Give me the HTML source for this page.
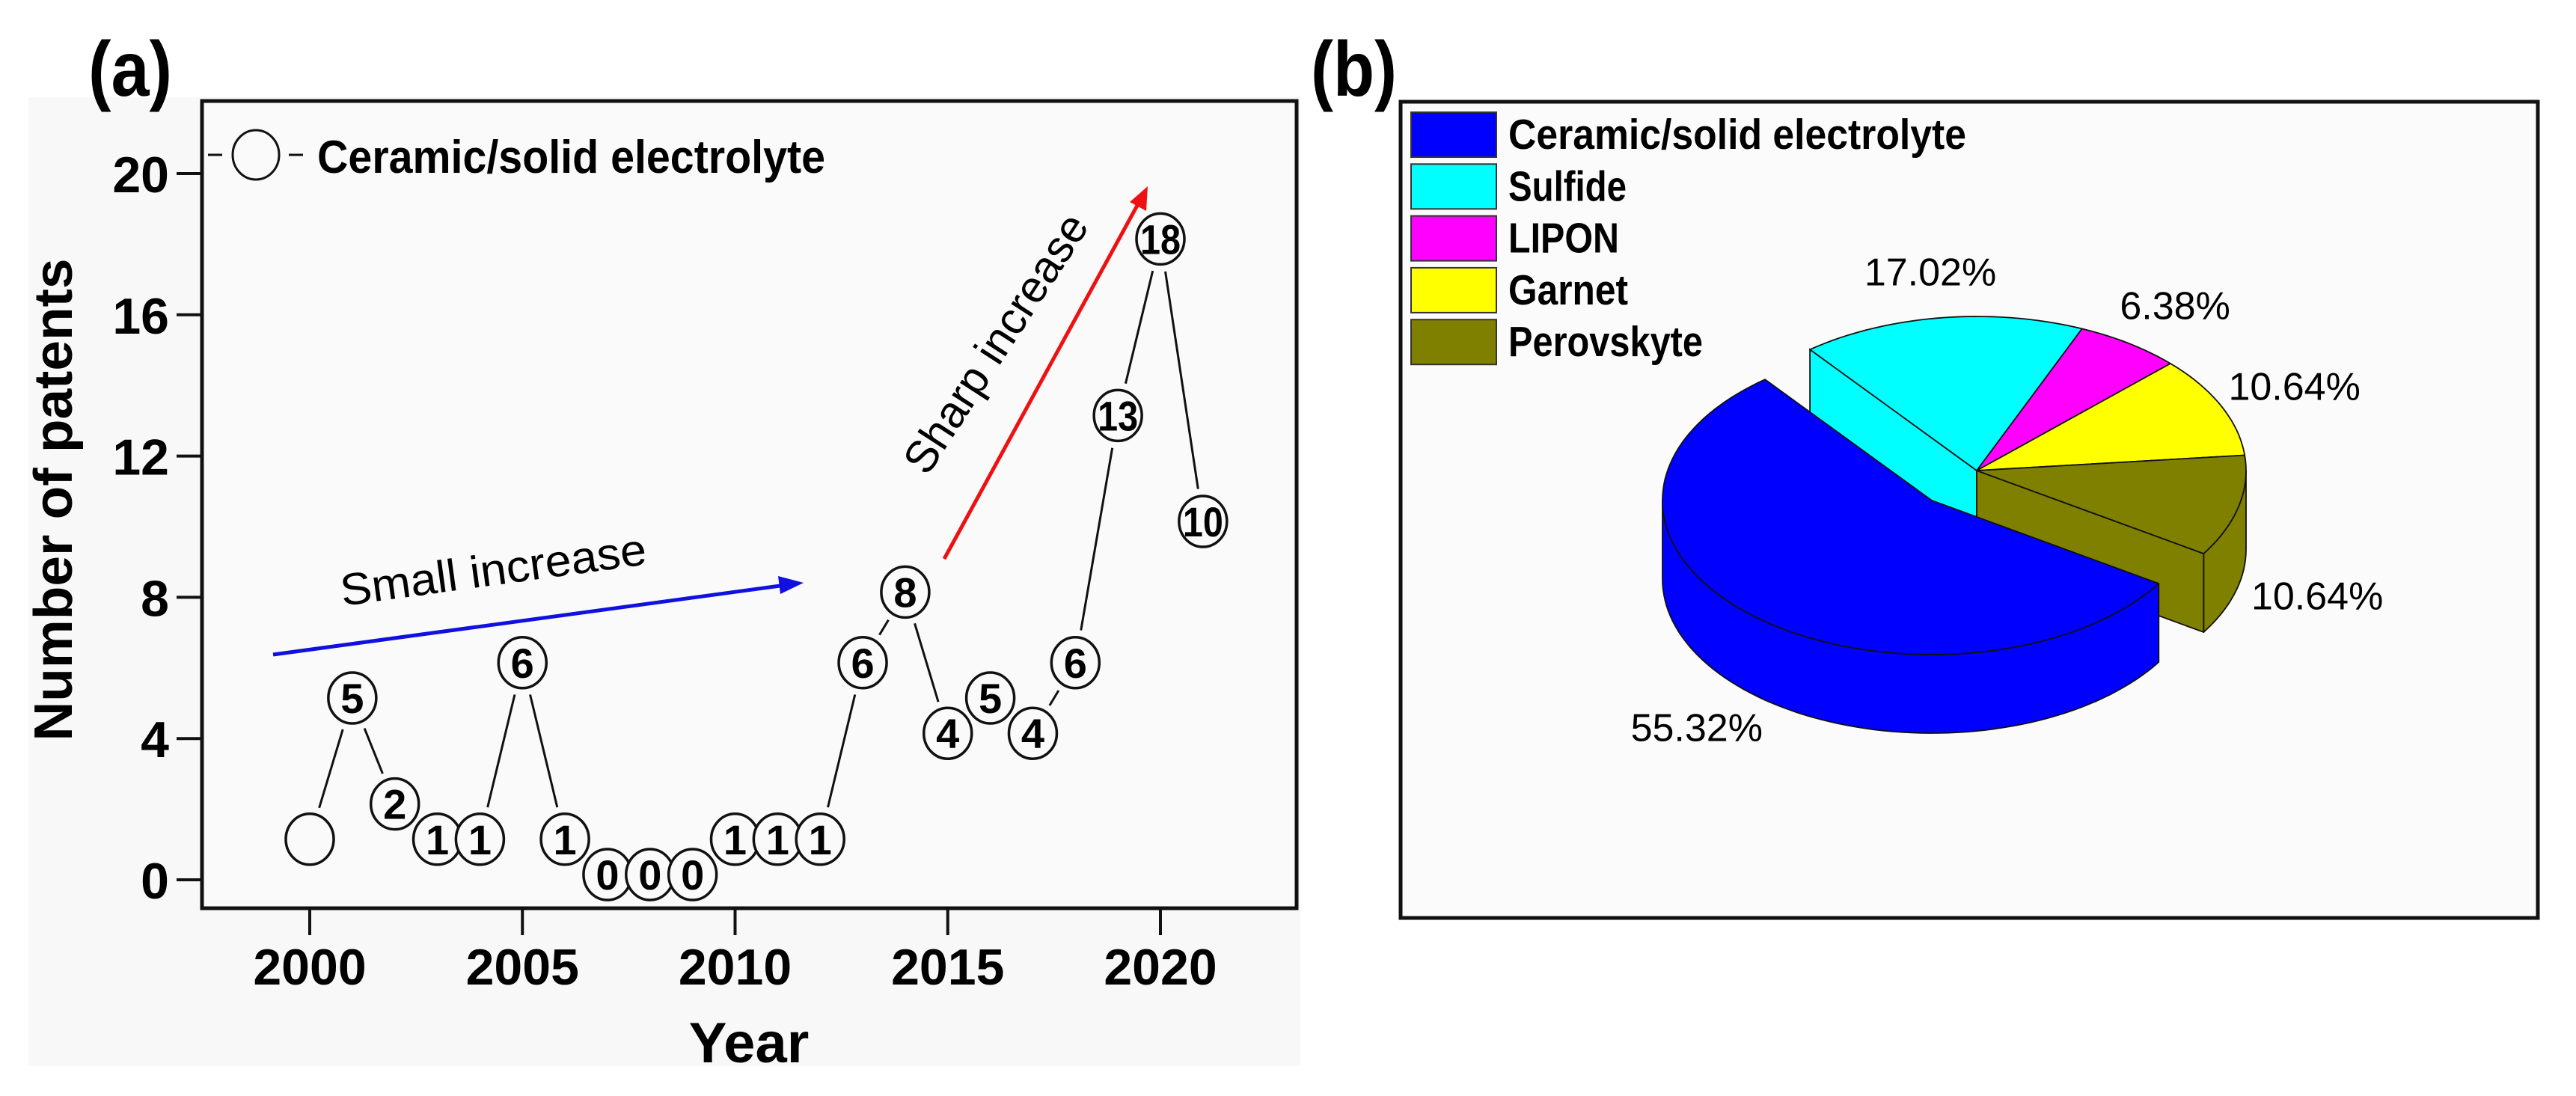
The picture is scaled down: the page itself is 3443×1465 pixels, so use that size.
<!DOCTYPE html>
<html><head><meta charset="utf-8">
<style>
html,body{margin:0;padding:0;background:#fff;}
svg{display:block;font-family:"Liberation Sans",Arial,sans-serif;}
</style></head>
<body>
<svg id="fig" width="3443" height="1465" viewBox="0 0 3443 1465" xmlns="http://www.w3.org/2000/svg">
  <rect x="0" y="0" width="3443" height="1465" fill="#fff"/>
  <g id="panelA">
    <rect x="38" y="130" width="1700" height="1295" fill="#f8f8f8"/>
    <text x="118" y="128" font-size="104" font-weight="bold" textLength="112" lengthAdjust="spacingAndGlyphs">(a)</text>
    <rect x="270" y="135" width="1463" height="1079" fill="#fafafa" stroke="#111" stroke-width="5"/>
    <g id="yticks"></g>
    <g id="xticks"></g>
    <text transform="translate(96,668) rotate(-90)" text-anchor="middle" font-size="72" font-weight="bold" textLength="645" lengthAdjust="spacingAndGlyphs">Number of patents</text>
    <text x="1001" y="1420" text-anchor="middle" font-size="76" font-weight="bold">Year</text>
    <g>
      <line x1="278" y1="207" x2="297" y2="207" stroke="#111" stroke-width="3"/>
      <ellipse cx="342" cy="207" rx="31" ry="33" fill="none" stroke="#111" stroke-width="3"/>
      <line x1="386" y1="207" x2="405" y2="207" stroke="#111" stroke-width="3"/>
      <text x="424" y="231" font-size="62" font-weight="bold" textLength="679" lengthAdjust="spacingAndGlyphs">Ceramic/solid electrolyte</text>
    </g>
    <g id="series"></g>
    <g>
      <line x1="365" y1="875" x2="1050" y2="782" stroke="#1010e0" stroke-width="5"/>
      <polygon points="1074,779 1040,770 1043,794" fill="#1010e0"/>
      <text transform="translate(662,782) rotate(-7.8)" text-anchor="middle" font-size="60" textLength="412" lengthAdjust="spacingAndGlyphs">Small increase</text>
    </g>
    <g>
      <line x1="1262" y1="747" x2="1522" y2="271" stroke="#ee1111" stroke-width="5"/>
      <polygon points="1534,249 1510,270 1532,282" fill="#ee1111"/>
      <text transform="translate(1348,470) rotate(-57)" text-anchor="middle" font-size="60" textLength="400" lengthAdjust="spacingAndGlyphs">Sharp increase</text>
    </g>
  </g>
  <g id="panelB">
    <text x="1752" y="128" font-size="104" font-weight="bold" textLength="115" lengthAdjust="spacingAndGlyphs">(b)</text>
    <rect x="1872" y="136" width="1520" height="1091" fill="#fbfbfb" stroke="#111" stroke-width="5"/>
    <g id="pieLegend"></g>
    <g id="pie"></g>
  </g>
</svg>
<script>
const years = [2000,2001,2002,2003,2004,2005,2006,2007,2008,2009,2010,2011,2012,2013,2014,2015,2016,2017,2018,2019,2020,2021];
const patents = [1,5,2,1,1,6,1,0,0,0,1,1,1,6,8,4,5,4,6,13,18,10];
const pointLabels = ["","5","2","1","1","6","1","0","0","0","1","1","1","6","8","4","5","4","6","13","18","10"];
const yTicks = [0,4,8,12,16,20];
const xTicks = [2000,2005,2010,2015,2020];

const pieCategories = ["Ceramic/solid electrolyte","Sulfide","LIPON","Garnet","Perovskyte"];
const pieShares = [55.32,17.02,6.38,10.64,10.64];
const pieColors = ["#0000ff","#00ffff","#ff00ff","#ffff00","#808000"];

const NS = "http://www.w3.org/2000/svg";
function mk(tag, attrs, parent){
  const e = document.createElementNS(NS, tag);
  for (const k in attrs) e.setAttribute(k, attrs[k]);
  if (parent) parent.appendChild(e);
  return e;
}
function xScale(yr){ return 414 + (yr - 2000) * 56.85; }
function yScale(v){ return 1176 - v * 47.2; }

const yG = document.getElementById('yticks');
yTicks.forEach(t => {
  const y = yScale(t);
  const l = mk('line', {x1:236, y1:y, x2:270, y2:y, stroke:'#111', 'stroke-width':4}, yG);
  
  
  const tx = mk('text', {x:226, y:y+25, 'text-anchor':'end', 'font-size':68, 'font-weight':'bold'}, yG);
  tx.textContent = t;
  
  
});
const xG = document.getElementById('xticks');
xTicks.forEach(t => {
  const x = xScale(t);
  const l = mk('line', {x1:x, y1:1214, x2:x, y2:1250, stroke:'#111', 'stroke-width':4}, xG);
  
  
  const tx = mk('text', {x:x, y:1316, 'text-anchor':'middle', 'font-size':68, 'font-weight':'bold'}, xG);
  tx.textContent = t;
  
  
});

const sG = document.getElementById('series');
const RX = 32, RY = 34, OFF = -7, GAP = 10;
const pts = years.map((yr,i) => [xScale(yr), yScale(patents[i]) + OFF]);
function edge(dx, dy){ return 1 / Math.sqrt((dx/RX)*(dx/RX) + (dy/RY)*(dy/RY)); }
for (let i = 0; i < pts.length - 1; i++){
  const [x1,y1] = pts[i], [x2,y2] = pts[i+1];
  const dx = x2-x1, dy = y2-y1, L = Math.hypot(dx,dy);
  const ux = dx/L, uy = dy/L;
  const r = edge(ux,uy) + GAP;
  if (L - 2*r < 2) continue;
  const s = mk('line', {x1:x1+ux*r, y1:y1+uy*r, x2:x2-ux*r, y2:y2-uy*r, stroke:'#111', 'stroke-width':3}, sG);
  
  
}
pts.forEach((p,i) => {
  const e = mk('ellipse', {cx:p[0], cy:p[1], rx:RX, ry:RY, fill:'#fafafa', stroke:'#111', 'stroke-width':3.5}, sG);
  
  
  if (pointLabels[i] !== ""){
    const t = mk('text', {x:p[0], y:p[1]+20, 'text-anchor':'middle', 'font-size':56, 'font-weight':'bold'}, sG);
    t.textContent = pointLabels[i];
    if (pointLabels[i].length > 1) { t.setAttribute('textLength', 54); t.setAttribute('lengthAdjust','spacingAndGlyphs'); }
    
    
  }
});

const lg = document.getElementById('pieLegend');
const legendLens = [612, 158, 148, 160, 260];
pieCategories.forEach((c,i) => {
  const y = 150 + i*69.3;
  const r = mk('rect', {x:1886, y:y, width:114, height:60, fill:pieColors[i], stroke:'#333', 'stroke-width':2}, lg);
  
  
  const t = mk('text', {x:2016, y:y+49, 'font-size':57, 'font-weight':'bold', textLength:legendLens[i], lengthAdjust:'spacingAndGlyphs'}, lg);
  t.textContent = c;
  
  
});

const pie = document.getElementById('pie');
const CX = 2642, CY = 629, PRX = 360, PRY = 206, DEPTH = 105;
const START = 327.4, EXPLODE = 0, EXP_DX = -60, EXP_DY = 40;
const rad = d => d * Math.PI / 180;
const slices = [];
let cur = START;
pieShares.forEach((v,i) => {
  const end = cur - v * 3.6;
  const ox = i === EXPLODE ? EXP_DX : 0, oy = i === EXPLODE ? EXP_DY : 0;
  slices.push({i, a:end, b:cur, cx:CX+ox, cy:CY+oy});
  cur = end;
});
function P(s, t, z){ return [s.cx + PRX*Math.cos(rad(t)), s.cy - PRY*Math.sin(rad(t)) + z]; }
function arc(s, a, b, z){
  const out = []; const n = Math.max(2, Math.ceil(Math.abs(b-a)/2));
  for (let k=0;k<=n;k++){ const t = a + (b-a)*k/n; out.push(P(s,t,z)); }
  return out;
}
const fmt = arr => arr.map(p => p[0].toFixed(1)+','+p[1].toFixed(1)).join(' ');
function drawSide(s){
  for (const k of [-360,0,360]){
    const lo = Math.max(s.a, 180+k), hi = Math.min(s.b, 360+k);
    if (hi > lo){
      const pts = arc(s, lo, hi, 0).concat(arc(s, hi, lo, DEPTH));
      const p = mk('polygon', {points:fmt(pts), fill:pieColors[s.i], stroke:'#111', 'stroke-width':1.8, 'stroke-linejoin':'round'}, pie);
      
      
    }
  }
}
function drawCut(s, t){
  const e0 = P(s,t,0), e1 = P(s,t,DEPTH);
  const pts = [[s.cx,s.cy], e0, e1, [s.cx, s.cy+DEPTH]];
  const p = mk('polygon', {points:fmt(pts), fill:pieColors[s.i], stroke:'#111', 'stroke-width':1.8}, pie);
  
  
}
function drawTop(s){
  const pts = [[s.cx,s.cy]].concat(arc(s, s.a, s.b, 0));
  const p = mk('polygon', {points:fmt(pts), fill:pieColors[s.i], stroke:'#111', 'stroke-width':1.8, 'stroke-linejoin':'round'}, pie);
  
  
}
const main = slices.filter(s => s.i !== EXPLODE), ex = slices[EXPLODE];
main.forEach(drawSide);
main.forEach(s => {
  if (Math.abs(((s.b - ex.a) % 360 + 360) % 360) < 0.01 && Math.sin(rad(s.b+90)) < 0) drawCut(s, s.b);
  if (Math.abs(((s.a - ex.b) % 360 + 360) % 360) < 0.01 && Math.sin(rad(s.a-90)) < 0) drawCut(s, s.a);
});
main.forEach(drawTop);
drawSide(ex);
drawTop(ex);

slices.forEach(s => {
  const mid = (s.a + s.b) / 2;
  let x = s.cx + PRX*1.3*Math.cos(rad(mid)), y = s.cy - PRY*1.3*Math.sin(rad(mid));
  if (Math.sin(rad(mid)) < 0) y += DEPTH;
  const t = mk('text', {x:x, y:y+18, 'text-anchor':'middle', 'font-size':52}, pie);
  t.textContent = pieShares[s.i].toFixed(2) + '%';
  
  
});
</script>
</body></html>
